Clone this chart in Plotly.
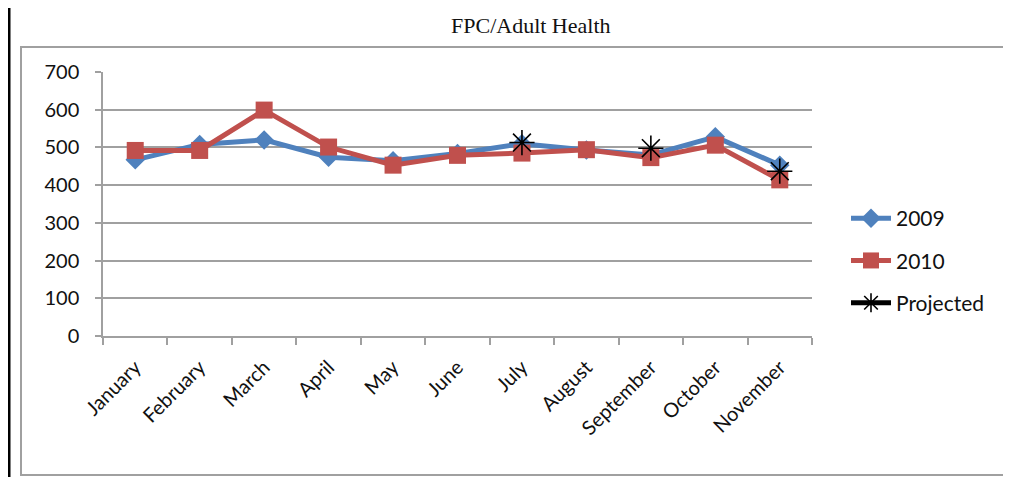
import plotly.graph_objects as go

months = ["January", "February", "March", "April", "May", "June", "July",
          "August", "September", "October", "November"]
y2009 = [467, 508, 520, 474, 465, 484, 510, 493, 480, 528, 453]
y2010 = [492, 492, 599, 501, 453, 479, 485, 494, 473, 506, 414]
projected = [None, None, None, None, None, None, 513, None, 498, None, 437]
y_ticks = [0, 100, 200, 300, 400, 500, 600, 700]

OFF = 8  # page body margin
W, H = 1011 - OFF, 477 - OFF
L, R, T, B = 103 - OFF, 812 - OFF, 72 - OFF, 336 - OFF

def px(x):
    return (x - OFF - L) / (R - L)

def py(y):
    return (B - (y - OFF)) / (B - T)

fig = go.Figure()
fig.add_trace(go.Scatter(
    x=months, y=y2009, name="2009", mode="lines+markers", legendgroup="a",
    line=dict(color="#4F81BD", width=5),
    marker=dict(symbol="diamond", size=15, color="#4F81BD")))
fig.add_trace(go.Scatter(
    x=months, y=y2010, name="2010", mode="lines+markers", legendgroup="b",
    line=dict(color="#C0504D", width=5),
    marker=dict(symbol="square", size=17, color="#C0504D")))
fig.add_trace(go.Scatter(
    x=months, y=projected, name="Projected", mode="lines+markers", legendgroup="c",
    connectgaps=False,
    line=dict(color="#000000", width=5),
    marker=dict(symbol="asterisk-open", size=21, color="#000000",
                line=dict(color="#000000", width=1.6))))

font_main = "Lato, 'Open Sans', sans-serif"

fig.update_layout(
    width=W, height=H,
    margin=dict(l=L, r=W - R, t=T, b=H - B, pad=0),
    paper_bgcolor="white", plot_bgcolor="white",
    showlegend=True,
    legend=dict(x=px(846), y=py(198), xanchor="left", yanchor="top",
                font=dict(family=font_main, size=21, color="#111111"),
                tracegroupgap=12, itemwidth=40, bgcolor="rgba(0,0,0,0)"),
    xaxis=dict(
        type="category", tickangle=-45,
        tickfont=dict(family=font_main, size=20, color="#111111"),
        showgrid=False, showline=True, linecolor="#A0A0A0", linewidth=1.5,
        ticks="outside", tickson="boundaries", ticklen=7, tickcolor="#A0A0A0",
        tickwidth=1.5, range=[-0.5, 10.5], ticklabelstandoff=10),
    yaxis=dict(
        range=[0, 700], tickvals=y_ticks,
        tickfont=dict(family=font_main, size=20, color="#111111"),
        showgrid=True, gridcolor="#A0A0A0", gridwidth=1.5,
        showline=True, linecolor="#A0A0A0", linewidth=1.5,
        ticks="outside", ticklen=6, tickcolor="#A0A0A0", tickwidth=1.5,
        zeroline=False, ticklabelstandoff=12),
    shapes=[
        dict(type="rect", xref="paper", yref="paper",
             x0=px(21), x1=px(1013), y0=py(475), y1=py(47),
             line=dict(color="#A0A0A0", width=2), layer="below"),
        dict(type="line", xref="paper", yref="paper",
             x0=px(9), x1=px(9), y0=py(480), y1=py(-5),
             line=dict(color="#000000", width=3)),
    ],
    annotations=[
        dict(text="FPC/Adult Health", xref="paper", yref="paper",
             x=px(531), y=py(25), xanchor="center", yanchor="middle",
             showarrow=False,
             font=dict(family="'Liberation Serif', 'DejaVu Serif', serif",
                       size=22, color="#111111")),
    ],
)

fig.write_html("out.html")
